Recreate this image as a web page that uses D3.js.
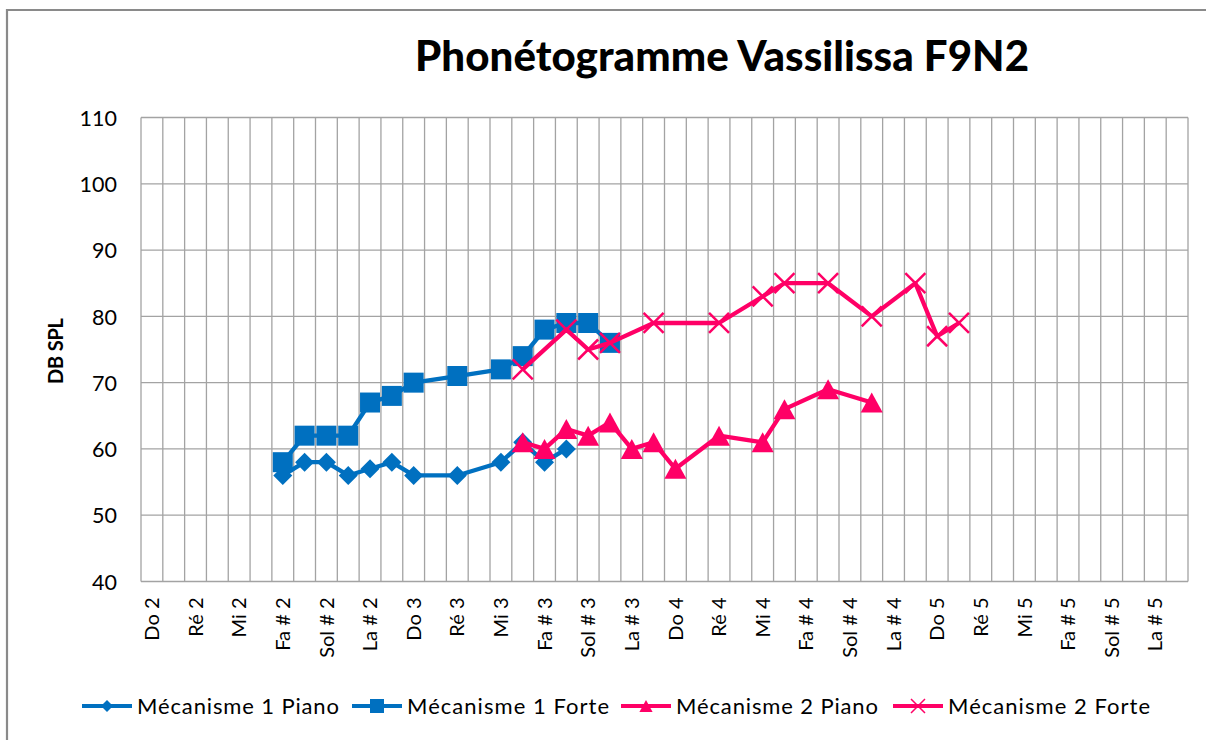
<!DOCTYPE html>
<html>
<head>
<meta charset="utf-8">
<script src="https://cdn.jsdelivr.net/npm/d3@7"></script>
<style>
  html, body { margin: 0; padding: 0; background: #fff; }
  svg { display: block; font-family: Lato, "Open Sans", sans-serif; }
</style>
</head>
<body>
<svg id="chart" width="1206" height="740"></svg>
<script>
// Semitone scale from Do 2 to Si 5 (category axis)
const noteNames = ["Do", "Do #", "Ré", "Ré #", "Mi", "Fa", "Fa #", "Sol", "Sol #", "La", "La #", "Si"];
const octaves = [2, 3, 4, 5];
const categories = octaves.flatMap(o => noteNames.map(n => `${n} ${o}`));

// Y axis ticks (dB SPL)
const yTicks = [40, 50, 60, 70, 80, 90, 100, 110];

// Series: note names and measured levels
const m1PianoNotes  = ["Fa # 2", "Sol 2", "Sol # 2", "La 2", "La # 2", "Si 2", "Do 3", "Ré 3", "Mi 3", "Fa 3", "Fa # 3", "Sol 3"];
const m1PianoValues = [56, 58, 58, 56, 57, 58, 56, 56, 58, 61, 58, 60];

const m1ForteNotes  = ["Fa # 2", "Sol 2", "Sol # 2", "La 2", "La # 2", "Si 2", "Do 3", "Ré 3", "Mi 3", "Fa 3", "Fa # 3", "Sol 3", "Sol # 3", "La 3"];
const m1ForteValues = [58, 62, 62, 62, 67, 68, 70, 71, 72, 74, 78, 79, 79, 76];

const m2PianoNotes  = ["Fa 3", "Fa # 3", "Sol 3", "Sol # 3", "La 3", "La # 3", "Si 3", "Do 4", "Ré 4", "Mi 4", "Fa 4", "Sol 4", "La 4"];
const m2PianoValues = [61, 60, 63, 62, 64, 60, 61, 57, 62, 61, 66, 69, 67];

const m2ForteNotes  = ["Fa 3", "Sol 3", "Sol # 3", "La 3", "Si 3", "Ré 4", "Mi 4", "Fa 4", "Sol 4", "La 4", "Si 4", "Do 5", "Do # 5"];
const m2ForteValues = [72, 78, 75, 76, 79, 79, 83, 85, 85, 80, 85, 77, 79];

const seriesNames = ["Mécanisme 1 Piano", "Mécanisme 1 Forte", "Mécanisme 2 Piano", "Mécanisme 2 Forte"];

const BLUE = "#0070c0";
const PINK = "#ff0066";
const GRID = "#a3a3a3";

const series = [
  { name: seriesNames[0], notes: m1PianoNotes, values: m1PianoValues, color: BLUE, marker: "diamond" },
  { name: seriesNames[1], notes: m1ForteNotes, values: m1ForteValues, color: BLUE, marker: "square" },
  { name: seriesNames[2], notes: m2PianoNotes, values: m2PianoValues, color: PINK, marker: "triangle" },
  { name: seriesNames[3], notes: m2ForteNotes, values: m2ForteValues, color: PINK, marker: "cross" }
];

const svg = d3.select("#chart");

// Outer chart frame
svg.append("path")
  .attr("d", "M7,741 L7,10 L1207,10")
  .attr("fill", "none")
  .attr("stroke", "#8a8a8a")
  .attr("stroke-width", 2.2);

const plot = { left: 141, top: 117.5, right: 1188, bottom: 581.5 };

const x = d3.scaleBand().domain(categories).range([plot.left, plot.right]).padding(0);
const y = d3.scaleLinear().domain([40, 110]).range([plot.bottom, plot.top]);

// Title
svg.append("text")
  .attr("x", 722)
  .attr("y", 71)
  .attr("text-anchor", "middle")
  .attr("font-weight", 900)
  .attr("font-size", 42)
  .attr("textLength", 614)
  .attr("fill", "#000")
  .text("Phonétogramme Vassilissa F9N2");

// Grid: vertical lines on category boundaries
const g = svg.append("g");
const boundaries = categories.map(c => x(c)).concat([plot.right]);
g.selectAll("line.v").data(boundaries).join("line")
  .attr("x1", d => d).attr("x2", d => d)
  .attr("y1", plot.top).attr("y2", plot.bottom)
  .attr("stroke", GRID).attr("stroke-width", 1.3);

// Horizontal grid lines
g.selectAll("line.h").data(yTicks).join("line")
  .attr("x1", plot.left).attr("x2", plot.right)
  .attr("y1", d => y(d)).attr("y2", d => y(d))
  .attr("stroke", GRID).attr("stroke-width", 1.3);

// Y axis labels
const yAxis = d3.axisLeft(y).tickValues(yTicks).tickSize(0).tickPadding(0);
svg.append("g")
  .attr("transform", `translate(${plot.left - 24},0)`)
  .call(yAxis)
  .call(s => s.select(".domain").remove())
  .selectAll("text")
  .attr("font-size", 21.5)
  .attr("font-family", "Lato, sans-serif")
  .attr("fill", "#000")
  .attr("dy", "0.36em");

// Y axis title
svg.append("text")
  .attr("transform", `translate(63,351) rotate(-90)`)
  .attr("text-anchor", "middle")
  .attr("font-weight", "bold")
  .attr("font-size", 20)
  .attr("textLength", 66)
  .text("DB SPL");

// X axis labels: every other semitone is labelled
const shown = categories.filter((c, i) => i % 2 === 0);
const xAxis = d3.axisBottom(x).tickValues(shown).tickSize(0).tickPadding(0);
svg.append("g")
  .attr("transform", `translate(0,${plot.bottom})`)
  .call(xAxis)
  .call(s => s.select(".domain").remove())
  .selectAll("text")
  .attr("font-size", 20)
  .attr("font-family", "Lato, sans-serif")
  .attr("fill", "#000")
  .attr("text-anchor", "end")
  .attr("transform", "rotate(-90)")
  .attr("x", -16)
  .attr("y", 0)
  .attr("dy", "0.36em");

// Marker shapes
function markerPath(type, s) {
  switch (type) {
    case "diamond": return `M0,${-s} L${s},0 L0,${s} L${-s},0 Z`;
    case "square": return `M${-s},${-s} H${s} V${s} H${-s} Z`;
    case "triangle": return `M0,${-s} L${s * 1.1},${s} L${-s * 1.1},${s} Z`;
    case "cross": return `M${-s},${-s} L${s},${s} M${s},${-s} L${-s},${s}`;
  }
}
const markerSize = { diamond: 9.5, square: 10, triangle: 10, cross: 10 };

function drawMarker(sel, type, color, s, crossWidth) {
  if (type === "cross") {
    sel.append("path").attr("d", markerPath(type, s))
      .attr("fill", "none").attr("stroke", color).attr("stroke-width", crossWidth);
  } else {
    sel.append("path").attr("d", markerPath(type, s)).attr("fill", color);
  }
}

const line = d3.line().x(d => x(d.note) + x.bandwidth() / 2).y(d => y(d.value));

series.forEach(sr => {
  const pts = sr.notes.map((n, i) => ({ note: n, value: sr.values[i] }));
  const sg = svg.append("g");
  sg.append("path")
    .attr("d", line(pts))
    .attr("fill", "none")
    .attr("stroke", sr.color)
    .attr("stroke-width", 4.3)
    .attr("stroke-linejoin", "round");
  pts.forEach(p => {
    const mg = sg.append("g")
      .attr("transform", `translate(${x(p.note) + x.bandwidth() / 2},${y(p.value)})`);
    drawMarker(mg, sr.marker, sr.color, markerSize[sr.marker], 2.5);
  });
});

// Legend
const legendItems = [
  { x: 82 }, { x: 352 }, { x: 621 }, { x: 893 }
];
const legendSize = { diamond: 6, square: 7, triangle: 6, cross: 7 };
series.forEach((sr, i) => {
  const lg = svg.append("g").attr("transform", `translate(${legendItems[i].x},706)`);
  lg.append("line").attr("x1", 0).attr("x2", 50).attr("y1", 0).attr("y2", 0)
    .attr("stroke", sr.color).attr("stroke-width", 4);
  const mg = lg.append("g").attr("transform", "translate(25,0)");
  drawMarker(mg, sr.marker, sr.color, legendSize[sr.marker], 1.5);
  lg.append("text")
    .attr("x", 55).attr("y", 0).attr("dy", "0.36em")
    .attr("font-size", 22)
    .attr("textLength", 202)
    .attr("fill", "#000")
    .text(sr.name);
});
</script>
</body>
</html>
